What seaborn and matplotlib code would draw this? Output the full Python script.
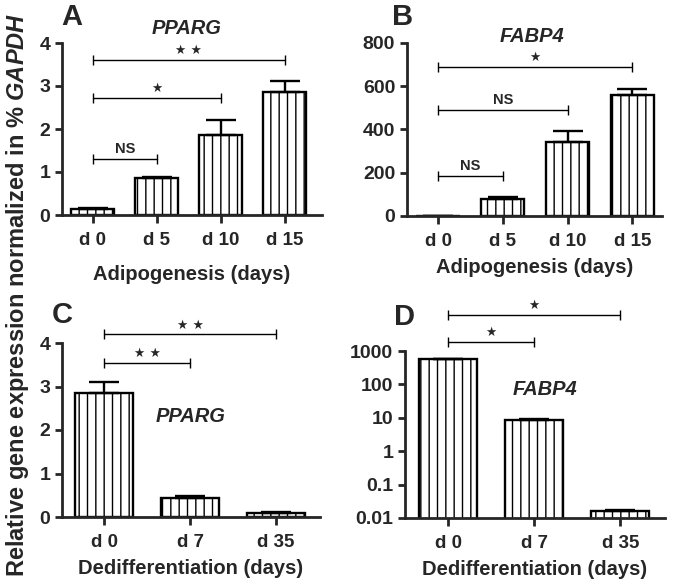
import matplotlib
matplotlib.use("Agg")
import seaborn as sns
from matplotlib import pyplot as plt
import numpy as np

# values
adipo_days = ["d 0", "d 5", "d 10", "d 15"]
pparg_adipo = [0.13, 0.85, 1.87, 2.85]
pparg_adipo_err = [0.03, 0.04, 0.35, 0.26]
fabp4_adipo = [1.0, 78, 340, 560]
fabp4_adipo_err = [0.5, 8, 55, 25]

dediff_days = ["d 0", "d 7", "d 35"]
pparg_dediff = [2.85, 0.44, 0.10]
pparg_dediff_err = [0.26, 0.04, 0.01]
fabp4_dediff = [560, 8.5, 0.016]
fabp4_dediff_err = [30, 0.4, 0.0015]

# significance brackets: (from, to, height, label)
brackets_a = [(0, 1, 1.3, "NS"), (0, 2, 2.72, "★"), (0, 3, 3.6, "★ ★")]
brackets_b = [(0, 1, 185, "NS"), (0, 2, 490, "NS"), (0, 3, 690, "★")]
brackets_c = [(0, 1, 3.55, "★ ★"), (0, 2, 4.2, "★ ★")]
brackets_d = [(0, 1, 1900, "★"), (0, 2, 12000, "★")]

sns.set_style("ticks")
plt.rcParams["font.family"] = ["Liberation Sans", "DejaVu Sans"]
plt.rcParams["font.weight"] = "bold"
plt.rcParams["hatch.linewidth"] = 1.0
plt.rcParams["mathtext.fontset"] = "custom"
plt.rcParams["mathtext.it"] = "Liberation Sans:italic:bold"
plt.rcParams["mathtext.rm"] = "Liberation Sans:bold"

W, H = 673, 586
fig = plt.figure(figsize=(W / 100, H / 100), dpi=100)


def px_axes(l, t, r, b):
    return fig.add_axes([l / W, 1 - b / H, (r - l) / W, (b - t) / H])


def panel(ax, days, vals, errs, brackets, xlim):
    sns.barplot(x=days, y=vals, ax=ax, color="white", edgecolor="black",
                linewidth=1.7, width=0.67, errorbar=None, saturation=1)
    for p in ax.patches:
        p.set_hatch("||")
    pos = np.arange(len(days))
    ax.errorbar(pos, vals, yerr=[np.zeros(len(vals)), errs], fmt="none",
                ecolor="black", elinewidth=1.7, capsize=11, capthick=1.7, zorder=1)
    for i, j, y, lab in brackets:
        ax.plot([i, j], [y, y], color="black", lw=1.0, marker="|", ms=7,
                mew=1.0, clip_on=False)
        fam = ["DejaVu Sans"] if "★" in lab else ["Liberation Sans"]
        ax.annotate(lab, xy=((i + j) / 2, y), xytext=(0, 2), textcoords="offset points",
                    ha="center", va="bottom", fontsize=10.5 if lab == "NS" else 9,
                    family=fam, fontweight="bold", annotation_clip=False)
    ax.set_xlim(*xlim)
    sns.despine(ax=ax)
    for s in ["left", "bottom"]:
        ax.spines[s].set_linewidth(2)
    ax.tick_params(axis="x", length=6, width=2, labelsize=13.5, pad=6)
    ax.tick_params(axis="y", length=5, width=2, labelsize=14)
    for t in ax.get_xticklabels() + ax.get_yticklabels():
        t.set_fontweight("bold")


xl = dict(fontsize=14.5, fontweight="bold")

axA = px_axes(62, 43, 322, 215)
panel(axA, adipo_days, pparg_adipo, pparg_adipo_err, brackets_a, (-0.48, 3.58))
axA.set_ylim(0, 4)
axA.set_yticks([0, 1, 2, 3, 4])
axA.set_xlabel("Adipogenesis (days)", labelpad=12, **xl)

axB = px_axes(407, 43, 662, 216)
panel(axB, adipo_days, fabp4_adipo, fabp4_adipo_err, brackets_b, (-0.48, 3.46))
axB.set_ylim(0, 800)
axB.set_yticks([0, 200, 400, 600, 800])
axB.set_xlabel("Adipogenesis (days)", labelpad=6, **xl)

axC = px_axes(62, 343, 320, 517)
panel(axC, dediff_days, pparg_dediff, pparg_dediff_err, brackets_c, (-0.49, 2.51))
axC.set_ylim(0, 4)
axC.set_yticks([0, 1, 2, 3, 4])
axC.set_xlabel("Dedifferentiation (days)", labelpad=6, **xl)
axC.text(1, 2.3, "PPARG", ha="center", va="center", fontsize=14.5,
         fontstyle="italic", fontweight="bold")

axD = px_axes(405, 351, 665, 518)
axD.set_yscale("log")
panel(axD, dediff_days, fabp4_dediff, fabp4_dediff_err, brackets_d, (-0.5, 2.52))
axD.set_yscale("log")
axD.set_ylim(0.01, 1000)
axD.set_yticks([0.01, 0.1, 1, 10, 100, 1000])
axD.set_yticklabels(["0.01", "0.1", "1", "10", "100", "1000"], fontweight="bold")
axD.minorticks_off()
axD.set_xlabel("Dedifferentiation (days)", labelpad=6, **xl)
axD.text(1.13, 70, "FABP4", ha="center", va="center", fontsize=14.5,
         fontstyle="italic", fontweight="bold")

# panel letters and gene titles
fig.text(61 / W, 1 - 17 / H, "A", fontsize=21, fontweight="bold", va="center")
fig.text(392 / W, 1 - 17 / H, "B", fontsize=21, fontweight="bold", va="center")
fig.text(52 / W, 1 - 315 / H, "C", fontsize=21, fontweight="bold", va="center")
fig.text(394 / W, 1 - 317 / H, "D", fontsize=21, fontweight="bold", va="center")
fig.text(187 / W, 1 - 28 / H, "PPARG", fontsize=14.5, fontstyle="italic",
         fontweight="bold", ha="center", va="center")
fig.text(532 / W, 1 - 36 / H, "FABP4", fontsize=14.5, fontstyle="italic",
         fontweight="bold", ha="center", va="center")

fig.text(18 / W, 1 - 295 / H, r"Relative gene expression normalized in % $\it{GAPDH}$",
         rotation=90, fontsize=17, fontweight="bold", ha="center", va="center")

fig.savefig("out.png", dpi=100)
